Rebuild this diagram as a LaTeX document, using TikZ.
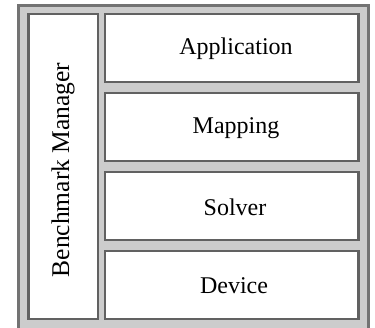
\documentclass[tikz,border=0pt]{standalone}
\usepackage{fontspec}
\setmainfont{Liberation Serif}
\begin{document}
\begin{tikzpicture}[x=1pt,y=-1pt,
  frame/.style={draw=black!55,line width=3pt,fill=black!20},
  layer/.style={draw=black!62,line width=2.6pt,fill=white,inner sep=0pt},
  label/.style={font=\fontsize{24}{28}\selectfont,inner sep=0pt}]
\useasboundingbox (0,0) rectangle (375,328);
% outer frame
\draw[frame] (18.5,5.5) rectangle (368.5,330);
% benchmark manager column
\draw[layer] (28.5,14) rectangle (98,319);
\node[label,rotate=90,font=\fontsize{25.5}{30}\selectfont] (bm) at (63,170) {Benchmark Manager};
% layered stack
\draw[layer] (105,14) rectangle (358.5,82);
\node[label] (app) at (236,49) {Application};
\draw[layer] (105,93) rectangle (358.5,161);
\node[label] (map) at (236,128) {Mapping};
\draw[layer] (105,172) rectangle (358.5,240);
\node[label] (sol) at (235,207) {Solver};
\draw[layer] (105,251) rectangle (358.5,319);
\node[label] (dev) at (234,286) {Device};
\end{tikzpicture}
\end{document}
